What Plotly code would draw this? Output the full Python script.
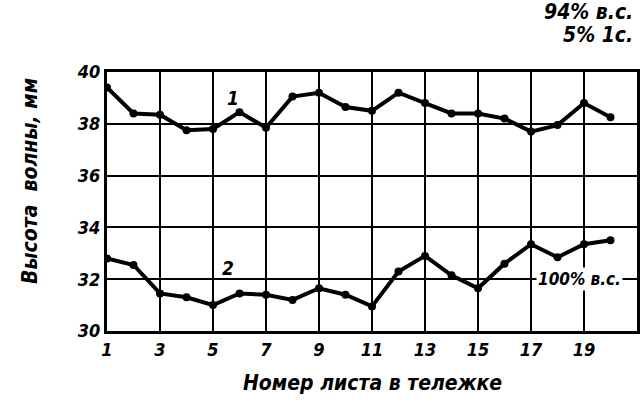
import plotly.graph_objects as go

sheet_no = list(range(1, 21))
wave_94 = [39.4, 38.4, 38.35, 37.75, 37.8, 38.45, 37.85, 39.05, 39.2, 38.65,
           38.5, 39.2, 38.8, 38.4, 38.4, 38.2, 37.7, 37.95, 38.8, 38.25]
wave_100 = [32.8, 32.55, 31.45, 31.3, 31.0, 31.45, 31.4, 31.2, 31.65, 31.4,
            30.95, 32.3, 32.9, 32.15, 31.65, 32.6, 33.35, 32.85, 33.35, 33.5]
x_ticks = [1, 3, 5, 7, 9, 11, 13, 15, 17, 19]
y_ticks = [30, 32, 34, 36, 38, 40]

FONT = "DejaVu Sans Condensed"
ink = "black"

fig = go.Figure()
for ys in (wave_94, wave_100):
    fig.add_trace(go.Scatter(
        x=sheet_no, y=ys, mode="lines+markers",
        line=dict(color=ink, width=4),
        marker=dict(color=ink, size=8, symbol="circle"),
        showlegend=False, hoverinfo="skip"))

tfont = dict(family=FONT, size=18, color=ink, style="italic", weight="bold")

fig.update_layout(
    width=644, height=404,
    margin=dict(l=107, r=7, t=72, b=73),
    paper_bgcolor="white", plot_bgcolor="white",
    xaxis=dict(range=[1, 21], tickvals=x_ticks, ticktext=[str(v) for v in x_ticks],
               showgrid=False, zeroline=False, automargin=False,
               showline=True, linecolor=ink, linewidth=3, mirror=True,
               ticks="", tickfont=tfont, ticklen=0),
    yaxis=dict(range=[30, 40], tickvals=y_ticks, showgrid=True, gridcolor=ink, gridwidth=2,
               zeroline=False, automargin=False,
               showline=True, linecolor=ink, linewidth=3, mirror=True,
               ticks="", tickfont=tfont),
)

# vertical grid lines every 2 sheets (drawn under data)
for xv in range(3, 21, 2):
    fig.add_shape(type="line", xref="x", yref="paper", x0=xv, x1=xv, y0=0, y1=1,
                  line=dict(color=ink, width=2), layer="below")

big = dict(family=FONT, size=19, color=ink, style="italic", weight="bold")
title_font = dict(family=FONT, size=21, color=ink, style="italic", weight="bold")
fig.add_annotation(x=0.5, y=-0.2, xref="paper", yref="paper",
                   xanchor="center", yanchor="middle",
                   text="Номер листа в тележке", showarrow=False, font=title_font)
fig.add_annotation(x=-0.145, y=0.58, xref="paper", yref="paper",
                   xanchor="center", yanchor="middle",
                   text="Высота  волны, мм", textangle=-90, showarrow=False, font=title_font)
fig.add_annotation(x=0.997, y=1.232, xref="paper", yref="paper",
                   xanchor="right", yanchor="middle",
                   text="94% в.с.", showarrow=False, font=title_font)
fig.add_annotation(x=0.997, y=1.143, xref="paper", yref="paper",
                   xanchor="right", yanchor="middle",
                   text="5% 1с.", showarrow=False, font=title_font)
fig.add_annotation(x=17.2, y=32, xref="x", yref="y", xanchor="left", yanchor="middle",
                   text="100% в.с.", showarrow=False, bgcolor="white",
                   font=dict(family=FONT, size=17, color=ink, style="italic", weight="bold"))
fig.add_annotation(x=5.75, y=39.0, xref="x", yref="y", xanchor="center", yanchor="middle",
                   text="1", showarrow=False, font=big)
fig.add_annotation(x=5.55, y=32.45, xref="x", yref="y", xanchor="center", yanchor="middle",
                   text="2", showarrow=False, font=big)

fig.write_html("out.html", config={"displayModeBar": False},
               post_script="document.body.style.margin='0';")
